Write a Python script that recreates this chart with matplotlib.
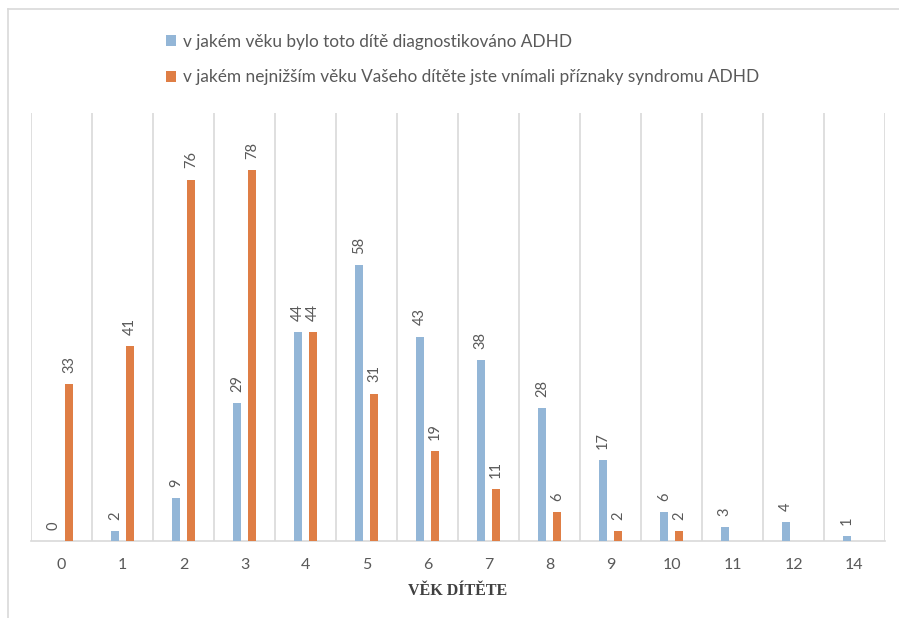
import matplotlib
matplotlib.use("Agg")
import matplotlib.pyplot as plt
import numpy as np
from matplotlib.lines import Line2D

categories = ["0", "1", "2", "3", "4", "5", "6", "7", "8", "9", "10", "11", "12", "14"]
diagnosed = [0, 2, 9, 29, 44, 58, 43, 38, 28, 17, 6, 3, 4, 1]
symptoms = [33, 41, 76, 78, 44, 31, 19, 11, 6, 2, 2, None, None, None]
series_names = ["v jakém věku bylo toto dítě diagnostikováno ADHD",
                "v jakém nejnižším věku Vašeho dítěte jste vnímali příznaky syndromu ADHD"]
xlabel = "VĚK DÍTĚTE"

blue = "#93B6D7"
orange = "#DF7E45"
grid_c = "#D9D9D9"
text_c = "#595959"

fig = plt.figure(figsize=(8.99, 6.18), dpi=100)
ax = fig.add_axes([31/899, 1-541/618, (885-31)/899, (541-113)/618])

x = np.arange(len(categories))
w = 0.13
off = 0.125
sv = np.array([np.nan if v is None else v for v in symptoms], dtype=float)
b1 = ax.bar(x - off, diagnosed, w, color=blue, label=series_names[0], zorder=3)
b2 = ax.bar(x + off, sv, w, color=orange, label=series_names[1], zorder=3)

for xi, v in zip(x - off, diagnosed):
    ax.annotate(str(v), (xi, v), xytext=(0, 8), textcoords="offset points",
                rotation=90, ha="center", va="bottom", fontsize=10.5,
                color=text_c, family="Lato")
for xi, v in zip(x + off, symptoms):
    if v is None:
        continue
    ax.annotate(str(v), (xi, v), xytext=(0, 8), textcoords="offset points",
                rotation=90, ha="center", va="bottom", fontsize=10.5,
                color=text_c, family="Lato")

ax.set_xlim(-0.5, len(categories) - 0.5)
ax.set_ylim(0, 90)
ax.set_yticks([])
ax.set_xticks(x)
ax.set_xticklabels(categories, fontsize=11.5, color=text_c, family="Lato")
ax.set_xticks(np.arange(-0.5, len(categories), 1), minor=True)
ax.tick_params(axis="x", which="both", length=0, pad=12)
ax.grid(which="minor", axis="x", color=grid_c, linewidth=1.2, zorder=0)
for s in ["top", "left", "right"]:
    ax.spines[s].set_visible(False)
ax.spines["bottom"].set_color(grid_c)
ax.spines["bottom"].set_linewidth(1.2)

ax.set_xlabel(xlabel, fontsize=11.5, fontweight="bold", color="#404040",
              family="Liberation Serif", labelpad=8)

leg = fig.legend(handles=[b1, b2], labels=series_names, loc="upper left",
                 bbox_to_anchor=(150/899, 1-18/618), frameon=False,
                 handlelength=0.6, handleheight=0.6,
                 handletextpad=0.4, labelspacing=1.15, prop={"family": "Lato", "size": 12.4})
for t in leg.get_texts():
    t.set_color(text_c)

fig.add_artist(Line2D([8/899, 8/899], [0, 1-9/618], color=grid_c, linewidth=1.2))
fig.add_artist(Line2D([8/899, 1], [1-9/618, 1-9/618], color=grid_c, linewidth=1.2))

fig.savefig("out.png", dpi=100)
